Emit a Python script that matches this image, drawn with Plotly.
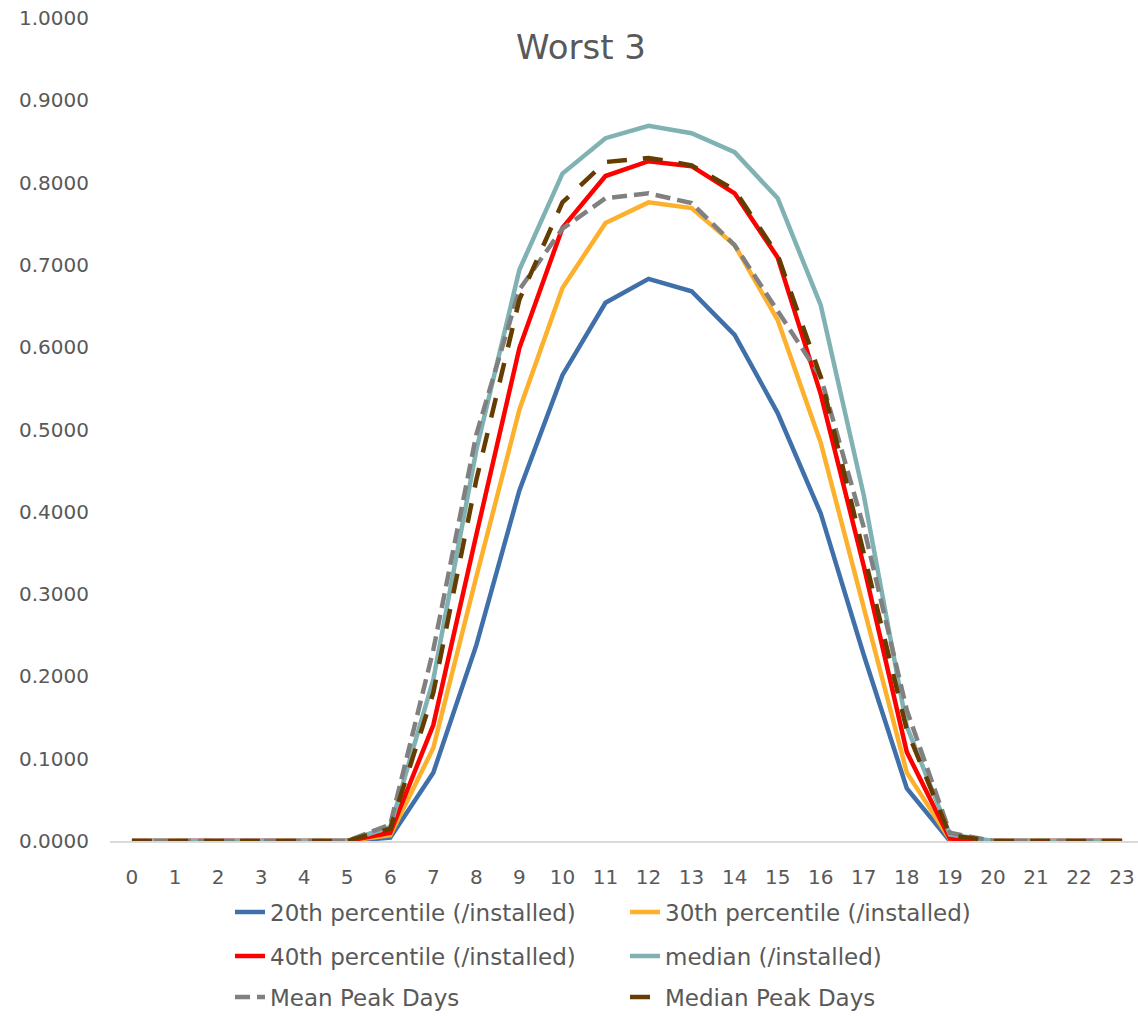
import plotly.graph_objects as go

hours = list(range(24))
tick_labels = [str(h) for h in hours]

p20 = [0, 0, 0, 0, 0, 0, 0.004, 0.083, 0.238, 0.426, 0.566, 0.654, 0.683, 0.668, 0.615, 0.520, 0.398, 0.226, 0.064, 0.0, 0, 0, 0, 0]
p30 = [0, 0, 0, 0, 0, 0, 0.007, 0.113, 0.321, 0.524, 0.672, 0.751, 0.776, 0.769, 0.724, 0.633, 0.484, 0.283, 0.083, 0.002, 0, 0, 0, 0]
p40 = [0, 0, 0, 0, 0, 0, 0.010, 0.141, 0.372, 0.599, 0.745, 0.808, 0.826, 0.820, 0.787, 0.709, 0.543, 0.334, 0.108, 0.003, 0, 0, 0, 0]
median = [0, 0, 0, 0, 0, 0, 0.017, 0.196, 0.475, 0.694, 0.811, 0.854, 0.869, 0.860, 0.837, 0.781, 0.651, 0.420, 0.139, 0.008, 0, 0, 0, 0]
mean_peak = [0, 0, 0, 0, 0, 0, 0.020, 0.232, 0.494, 0.670, 0.744, 0.781, 0.787, 0.775, 0.724, 0.645, 0.564, 0.381, 0.159, 0.010, 0, 0, 0, 0]
median_peak = [0, 0, 0, 0, 0, 0, 0.015, 0.180, 0.439, 0.658, 0.776, 0.825, 0.830, 0.821, 0.791, 0.712, 0.564, 0.351, 0.135, 0.007, 0, 0, 0, 0]

series = [
    ("20th percentile (/installed)", p20, "#3F70AA", "solid", "legend"),
    ("30th percentile (/installed)", p30, "#FCB02C", "solid", "legend"),
    ("40th percentile (/installed)", p40, "#FF0000", "solid", "legend2"),
    ("median (/installed)", median, "#80B2B3", "solid", "legend2"),
    ("Mean Peak Days", mean_peak, "#808080", "15px,7px", "legend3"),
    ("Median Peak Days", median_peak, "#663D00", "20px,16px", "legend3"),
]

FONT = "DejaVu Sans"
GREY = "#595959"

fig = go.Figure()
for name, vals, color, dash, lg in series:
    fig.add_trace(go.Scatter(
        x=hours, y=vals, mode="lines", name=name,
        line=dict(color=color, width=4.5, dash=dash),
        legend=lg,
    ))

left, right, top, bottom = 110, 0, 18, 175
W, H = 1138, 1016
plot_w = W - left - right
plot_h = H - top - bottom

def px_to_paper_x(px):
    return (px - left) / plot_w

def px_to_paper_y(py):
    return (H - bottom - py) / plot_h

legend_common = dict(
    orientation="h", xanchor="left", yanchor="middle",
    x=px_to_paper_x(230), font=dict(family=FONT, size=23, color=GREY),
    entrywidth=350, entrywidthmode="pixels", bgcolor="rgba(0,0,0,0)",
)

fig.update_layout(
    width=W, height=H,
    margin=dict(l=left, r=right, t=top, b=bottom, pad=0, autoexpand=False),
    paper_bgcolor="white", plot_bgcolor="white",
    font=dict(family=FONT, color=GREY),
    title=dict(text="Worst 3", font=dict(family=FONT, size=34, color=GREY),
               x=581 / W, xref="container", xanchor="center",
               y=1 - 47 / H, yref="container", yanchor="middle"),
    showlegend=True,
    legend=dict(**legend_common, y=px_to_paper_y(912)),
    legend2=dict(**legend_common, y=px_to_paper_y(956)),
    legend3=dict(**legend_common, y=px_to_paper_y(997)),
    xaxis=dict(
        range=[-0.51, 23.37], tickmode="array", tickvals=hours, ticktext=tick_labels,
        showgrid=False, zeroline=False, showline=True, linecolor="#D9D9D9", linewidth=1.5,
        ticks="", tickfont=dict(family=FONT, size=20, color=GREY), ticklabelstandoff=17,
    ),
    yaxis=dict(
        range=[0, 1], tickmode="linear", tick0=0, dtick=0.1, tickformat=".4f",
        showgrid=False, zeroline=False, showline=False, ticks="",
        tickfont=dict(family=FONT, size=20, color=GREY), ticklabelstandoff=20,
    ),
)

fig.write_html("out.html")
